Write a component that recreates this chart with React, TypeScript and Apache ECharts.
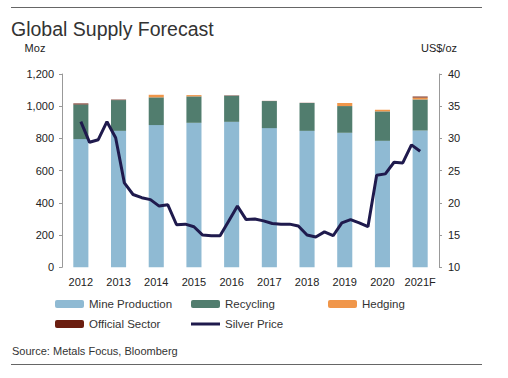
import React, { useEffect, useRef } from "react";
import * as echarts from "echarts";

const years = ["2012", "2013", "2014", "2015", "2016", "2017", "2018", "2019", "2020", "2021F"];
const mineProduction = [796, 847, 883, 897, 903, 864, 847, 835, 785, 849];
const recycling = [215, 191, 172, 164, 162, 168, 173, 166, 183, 193];
const hedging = [0, 0, 16, 8, 0, 0, 0, 19, 10, 12];
const officialSector = [6, 3, 0, 0, 2, 1, 1, 0, 0, 6];

const quarters = [
  "Q1 12", "Q2 12", "Q3 12", "Q4 12",
  "Q1 13", "Q2 13", "Q3 13", "Q4 13",
  "Q1 14", "Q2 14", "Q3 14", "Q4 14",
  "Q1 15", "Q2 15", "Q3 15", "Q4 15",
  "Q1 16", "Q2 16", "Q3 16", "Q4 16",
  "Q1 17", "Q2 17", "Q3 17", "Q4 17",
  "Q1 18", "Q2 18", "Q3 18", "Q4 18",
  "Q1 19", "Q2 19", "Q3 19", "Q4 19",
  "Q1 20", "Q2 20", "Q3 20", "Q4 20",
  "Q1 21", "Q2 21", "Q3 21", "Q4 21",
];
const silverPrice = [
  32.6, 29.4, 29.8, 32.6,
  30.1, 23.1, 21.3, 20.8,
  20.5, 19.5, 19.7, 16.6,
  16.7, 16.3, 15.0, 14.9,
  14.9, 17.2, 19.5, 17.4,
  17.5, 17.2, 16.8, 16.7,
  16.7, 16.4, 15.0, 14.7,
  15.5, 14.9, 16.9, 17.4,
  16.9, 16.3, 24.3, 24.5,
  26.3, 26.2, 29.0, 28.0,
];

const FONT = "'Liberation Sans', Arial, sans-serif";
const C_MINE = "#8fbad3";
const C_REC = "#517d6e";
const C_HEDGE = "#f0964a";
const C_OFF = "#6b1e10";
const C_PRICE = "#1f1a4d";

export default function App() {
  const ref = useRef<HTMLDivElement>(null);
  useEffect(() => {
    if (!ref.current) return;
    const chart = echarts.init(ref.current, null, { renderer: "svg" });
    const plotTop = 74;
    const plotBottom = 110.7;
    const legendBase = {
      orient: "horizontal" as const,
      itemWidth: 29,
      itemHeight: 8,
      itemGap: 0,
      padding: 0,
      textStyle: { fontFamily: FONT, fontSize: 11.5, color: "#333" },
    };
    const barBase = {
      type: "bar" as const,
      stack: "supply",
      barWidth: "40%",
      xAxisIndex: 0,
      yAxisIndex: 0,
    };
    chart.setOption({
      animation: false,
      textStyle: { fontFamily: FONT },
      title: {
        text: "Global Supply Forecast",
        left: 11,
        top: 19,
        padding: 0,
        textStyle: { fontFamily: FONT, fontSize: 19.5, fontWeight: "normal", color: "#333" },
      },
      grid: [
        { left: 62, right: 69, top: plotTop, bottom: plotBottom },
        { left: 80.85, right: 87.85, top: plotTop, bottom: plotBottom },
      ],
      xAxis: [
        {
          type: "category",
          gridIndex: 0,
          data: years,
          axisLine: { show: false },
          axisTick: { show: false },
          axisLabel: { fontFamily: FONT, fontSize: 11, color: "#222", margin: 9, interval: 0 },
        },
        {
          type: "category",
          gridIndex: 1,
          data: quarters,
          boundaryGap: false,
          show: false,
        },
      ],
      yAxis: [
        {
          type: "value",
          gridIndex: 0,
          min: 0,
          max: 1200,
          interval: 200,
          position: "left",
          axisLine: { show: true, lineStyle: { color: "#999" } },
          axisTick: { show: true, length: 3, lineStyle: { color: "#999" } },
          splitLine: { show: false },
          axisLabel: {
            fontFamily: FONT,
            fontSize: 11,
            color: "#222",
            margin: 8,
            formatter: (v: number) => v.toLocaleString("en-US"),
          },
        },
        {
          type: "value",
          gridIndex: 0,
          min: 10,
          max: 40,
          interval: 5,
          position: "right",
          axisLine: { show: true, lineStyle: { color: "#999" } },
          axisTick: { show: true, length: 3, lineStyle: { color: "#999" } },
          splitLine: { show: false },
          axisLabel: { fontFamily: FONT, fontSize: 11, color: "#222", margin: 9 },
        },
        {
          type: "value",
          gridIndex: 1,
          min: 10,
          max: 40,
          show: false,
          splitLine: { show: false },
        },
      ],
      legend: [
        { ...legendBase, left: 55, top: 298, data: ["Mine Production"] },
        { ...legendBase, left: 191, top: 298, data: ["Recycling"] },
        { ...legendBase, left: 328, top: 298, data: ["Hedging"] },
        { ...legendBase, left: 55, top: 318, data: ["Official Sector"] },
        {
          ...legendBase,
          left: 191,
          top: 318,
          itemHeight: 3,
          data: [{ name: "Silver Price", icon: "rect" }],
        },
      ],
      series: [
        { ...barBase, name: "Mine Production", data: mineProduction, itemStyle: { color: C_MINE } },
        { ...barBase, name: "Recycling", data: recycling, itemStyle: { color: C_REC } },
        { ...barBase, name: "Hedging", data: hedging, itemStyle: { color: C_HEDGE } },
        { ...barBase, name: "Official Sector", data: officialSector, itemStyle: { color: C_OFF } },
        {
          type: "line",
          name: "Silver Price",
          xAxisIndex: 1,
          yAxisIndex: 2,
          data: silverPrice,
          symbol: "none",
          lineStyle: { color: C_PRICE, width: 3 },
          itemStyle: { color: C_PRICE },
        },
      ],
      graphic: [
        { type: "line", shape: { x1: 11, y1: 7.5, x2: 482, y2: 7.5 }, style: { stroke: "#666", lineWidth: 1 } },
        { type: "line", shape: { x1: 11, y1: 364.5, x2: 482, y2: 364.5 }, style: { stroke: "#666", lineWidth: 1 } },
        {
          type: "text",
          x: 35,
          y: 48,
          style: { text: "Moz", fontFamily: FONT, fontSize: 11, fill: "#222", align: "center", verticalAlign: "middle" },
        },
        {
          type: "text",
          x: 439,
          y: 48,
          style: { text: "US$/oz", fontFamily: FONT, fontSize: 11, fill: "#222", align: "center", verticalAlign: "middle" },
        },
        {
          type: "text",
          x: 12,
          y: 351,
          style: { text: "Source: Metals Focus, Bloomberg", fontFamily: FONT, fontSize: 11, fill: "#333", verticalAlign: "middle" },
        },
      ],
    });
    return () => chart.dispose();
  }, []);
  return (
    <div
      ref={ref}
      style={{ position: "fixed", left: 0, top: 0, width: 508, height: 378, background: "#fff" }}
    />
  );
}
